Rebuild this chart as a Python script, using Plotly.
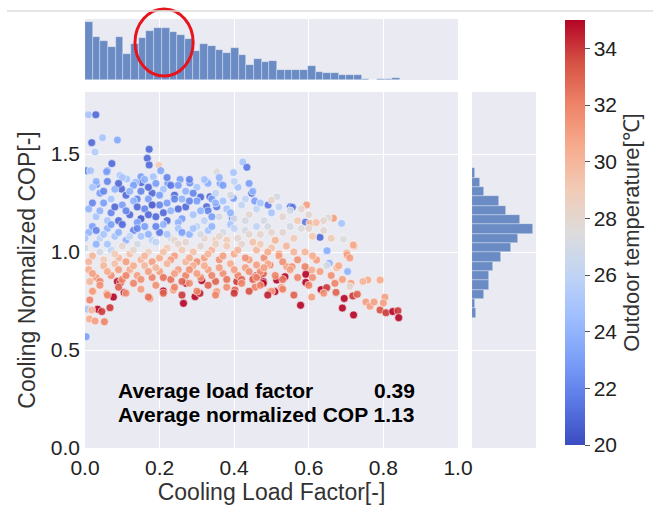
import plotly.graph_objects as go

# ---------------- data (load factor, normalized COP, outdoor temperature) ----------------
upper_outliers = [
    (0.009, 1.70, 25), (0.029, 1.70, 21), (0.018, 1.558, 21), (0.047, 1.583, 25),
    (0.087, 1.571, 23.5), (0.027, 1.51, 25.5), (0.172, 1.524, 21), (0.167, 1.478, 21),
    (0.172, 1.444, 21), (0.072, 1.451, 21), (0.004, 1.415, 22), (0.015, 1.415, 25),
    (0.198, 1.442, 29), (0.423, 1.459, 25), (0.434, 1.432, 21.5), (0.06, 1.415, 23),
    (0.203, 1.415, 23.5), (0.058, 1.41, 23), (0.094, 1.39, 25), (0.112, 1.372, 25),
    (0.150, 1.384, 23), (0.151, 1.354, 21), (0.031, 1.345, 22.5), (0.098, 1.321, 21),
    (0.136, 1.356, 24.5), (0.183, 1.384, 25), (0.222, 1.35, 23), (0.255, 1.37, 23),
    (0.281, 1.352, 22.5), (0.362, 1.35, 23.5), (0.398, 1.405, 25), (0.353, 1.41, 27.5),
    (0.326, 1.359, 22.5),
]
mid_right_points = [
    (0.551, 1.231, 21), (0.556, 1.228, 21.5), (0.594, 1.24, 31), (0.591, 1.152, 21.5),
    (0.630, 1.075, 21), (0.666, 1.172, 31), (0.688, 1.146, 25), (0.693, 1.065, 27.5),
    (0.721, 1.031, 31), (0.648, 1.005, 24), (0.702, 0.993, 31), (0.652, 1.175, 27.5),
    (0.640, 1.160, 28), (0.603, 1.146, 30), (0.491, 1.24, 21.5), (0.514, 1.282, 27),
    (0.500, 1.265, 28), (0.447, 1.30, 21), (0.455, 1.26, 23), (0.398, 1.274, 23),
    (0.335, 1.282, 21), (0.326, 1.231, 21), (0.353, 1.231, 21.5), (0.395, 1.172, 22),
]
lower_left_points = [
    (0.003, 0.568, 23), (0.006, 0.708, 25), (0.012, 0.658, 30.5), (0.027, 0.648, 31),
    (0.034, 0.708, 35), (0.045, 0.696, 34), (0.067, 0.716, 34), (0.076, 0.77, 35),
    (0.052, 0.644, 32), (0.013, 0.755, 32), (0.018, 0.704, 30), (0.087, 0.849, 35),
    (0.095, 0.845, 34), (0.105, 0.794, 35), (0.058, 0.789, 30), (0.022, 0.798, 30.5),
    (0.013, 0.849, 30), (0.174, 0.763, 31.5), (0.21, 0.801, 35), (0.264, 0.738, 35),
    (0.237, 0.806, 31), (0.271, 0.84, 35), (0.295, 0.772, 35), (0.308, 0.789, 34.5),
    (0.313, 0.854, 35), (0.353, 0.798, 31), (0.407, 0.849, 34), (0.402, 0.806, 33),
    (0.46, 0.879, 35), (0.478, 0.849, 35), (0.496, 0.798, 32), (0.452, 0.87, 34),
    (0.47, 0.885, 35),
]
lower_right_points = [
    (0.578, 0.728, 35), (0.608, 0.77, 31), (0.633, 0.808, 35), (0.648, 0.818, 34),
    (0.673, 0.794, 33), (0.695, 0.763, 35), (0.69, 0.714, 35), (0.72, 0.679, 35),
    (0.718, 0.776, 34), (0.73, 0.784, 33), (0.753, 0.745, 31), (0.764, 0.723, 31),
    (0.775, 0.745, 31), (0.804, 0.769, 31), (0.791, 0.704, 33.5), (0.807, 0.69, 34),
    (0.825, 0.696, 35), (0.839, 0.70, 34), (0.841, 0.665, 35), (0.80, 0.74, 31),
    (0.791, 0.857, 30.5), (0.758, 0.857, 30.5), (0.745, 0.85, 30), (0.713, 0.84, 31),
    (0.704, 0.90, 24), (0.655, 0.942, 24), (0.649, 1.007, 24), (0.648, 0.93, 27),
    (0.675, 0.92, 30), (0.71, 0.823, 28), (0.69, 0.86, 31), (0.608, 0.908, 30.5),
    (0.621, 0.959, 31), (0.703, 0.985, 31), (0.71, 0.97, 31), (0.719, 1.036, 30.5),
    (0.59, 0.925, 32), (0.592, 0.886, 35), (0.592, 0.845, 35), (0.541, 0.925, 31),
    (0.555, 0.925, 31.5), (0.536, 0.874, 35), (0.514, 0.857, 35), (0.509, 0.798, 35),
    (0.527, 0.818, 31.5), (0.50, 0.80, 31), (0.478, 0.84, 35), (0.456, 0.871, 35),
    (0.456, 0.82, 32), (0.478, 0.89, 33), (0.496, 0.934, 32), (0.46, 0.934, 31),
    (0.52, 0.99, 31),
]
band_cop_135 = [
    (0.02, 1.33, 25), (0.04, 1.30, 23), (0.06, 1.36, 22), (0.08, 1.32, 24), (0.10, 1.38, 25),
    (0.11, 1.29, 21), (0.13, 1.34, 23), (0.15, 1.31, 22), (0.16, 1.37, 24), (0.18, 1.30, 21),
    (0.19, 1.35, 23), (0.21, 1.32, 25), (0.22, 1.38, 22), (0.24, 1.29, 21), (0.25, 1.34, 23),
    (0.27, 1.31, 24), (0.28, 1.37, 22), (0.30, 1.33, 25), (0.31, 1.28, 21), (0.33, 1.35, 24),
    (0.35, 1.30, 26), (0.37, 1.34, 23), (0.39, 1.29, 27), (0.41, 1.33, 25), (0.43, 1.27, 26),
    (0.45, 1.31, 24),
]
band_cop_130b = [
    (0.03, 1.36, 24), (0.05, 1.31, 22), (0.07, 1.27, 25), (0.09, 1.35, 21), (0.12, 1.31, 24),
    (0.14, 1.27, 22), (0.17, 1.33, 21), (0.20, 1.29, 23), (0.23, 1.34, 21.5), (0.26, 1.27, 24),
    (0.29, 1.30, 22), (0.32, 1.37, 25), (0.34, 1.27, 23), (0.36, 1.38, 24), (0.40, 1.36, 26),
    (0.44, 1.35, 23),
]
band_cop_122 = [
    (0.01, 1.22, 24), (0.03, 1.18, 25), (0.05, 1.25, 23), (0.07, 1.20, 22), (0.09, 1.16, 21),
    (0.10, 1.24, 23), (0.12, 1.19, 21), (0.13, 1.26, 24), (0.15, 1.17, 20.5), (0.16, 1.22, 22),
    (0.17, 1.27, 23), (0.19, 1.18, 21), (0.20, 1.24, 22), (0.22, 1.16, 21), (0.23, 1.21, 24),
    (0.24, 1.27, 22), (0.26, 1.17, 23), (0.27, 1.23, 21), (0.29, 1.19, 25), (0.30, 1.26, 23),
    (0.32, 1.16, 26), (0.33, 1.21, 22), (0.35, 1.25, 24), (0.36, 1.18, 27), (0.38, 1.22, 25),
    (0.40, 1.17, 27), (0.42, 1.24, 26), (0.44, 1.19, 28), (0.46, 1.22, 26), (0.48, 1.16, 27),
    (0.50, 1.20, 25), (0.53, 1.18, 28), (0.55, 1.21, 27), (0.57, 1.16, 29), (0.60, 1.19, 28),
    (0.62, 1.15, 29.5),
]
band_cop_118b = [
    (0.02, 1.25, 22), (0.04, 1.21, 24), (0.06, 1.16, 25), (0.08, 1.23, 21), (0.11, 1.21, 22),
    (0.14, 1.23, 21), (0.14, 1.15, 23), (0.17, 1.19, 21), (0.18, 1.24, 20.5), (0.21, 1.20, 21),
    (0.22, 1.25, 23), (0.25, 1.22, 21), (0.25, 1.15, 24), (0.28, 1.26, 22), (0.31, 1.21, 24),
    (0.34, 1.18, 23), (0.37, 1.26, 25), (0.39, 1.20, 24), (0.43, 1.16, 27), (0.47, 1.25, 25),
    (0.52, 1.23, 26), (0.58, 1.22, 28),
]
band_cop_110 = [
    (0.01, 1.10, 24), (0.02, 1.13, 23), (0.04, 1.07, 26), (0.06, 1.12, 24), (0.08, 1.08, 25),
    (0.10, 1.14, 21), (0.11, 1.06, 24), (0.13, 1.11, 22), (0.15, 1.08, 25), (0.16, 1.13, 23),
    (0.18, 1.06, 26), (0.20, 1.10, 21.5), (0.21, 1.14, 24), (0.23, 1.07, 27), (0.25, 1.12, 25),
    (0.27, 1.05, 28), (0.28, 1.09, 24), (0.30, 1.13, 26), (0.32, 1.07, 28), (0.33, 1.11, 25),
    (0.35, 1.06, 29), (0.37, 1.10, 27), (0.39, 1.14, 25), (0.41, 1.07, 28), (0.43, 1.11, 27),
    (0.45, 1.05, 29.5), (0.47, 1.09, 28), (0.49, 1.13, 27), (0.51, 1.06, 30), (0.53, 1.10, 28),
    (0.56, 1.07, 29), (0.58, 1.12, 27.5), (0.61, 1.08, 29), (0.64, 1.11, 28),
]
band_cop_108b = [
    (0.00, 1.07, 25), (0.03, 1.11, 22), (0.05, 1.09, 25), (0.07, 1.14, 23), (0.09, 1.10, 24),
    (0.12, 1.08, 26), (0.14, 1.12, 22), (0.17, 1.09, 24), (0.19, 1.13, 22), (0.22, 1.09, 25),
    (0.24, 1.06, 28), (0.26, 1.10, 23), (0.29, 1.12, 25), (0.31, 1.09, 27), (0.34, 1.13, 24),
    (0.36, 1.08, 28), (0.38, 1.06, 29), (0.40, 1.12, 26), (0.44, 1.09, 28), (0.46, 1.13, 26),
    (0.50, 1.10, 28), (0.55, 1.13, 27), (0.60, 1.12, 28), (0.66, 1.07, 29),
]
band_cop_100 = [
    (0.00, 1.02, 27), (0.02, 0.98, 30), (0.03, 1.04, 24), (0.05, 0.96, 29), (0.07, 1.01, 26),
    (0.09, 0.97, 30), (0.10, 1.03, 28), (0.12, 0.99, 29.5), (0.14, 1.04, 27), (0.15, 0.96, 30),
    (0.17, 1.00, 28.5), (0.19, 1.05, 26), (0.20, 0.97, 30.5), (0.22, 1.02, 29), (0.24, 0.98, 31),
    (0.25, 1.04, 28), (0.27, 0.95, 30), (0.29, 1.00, 29.5), (0.31, 1.03, 28), (0.32, 0.97, 31),
    (0.34, 1.01, 30), (0.36, 0.96, 31.5), (0.38, 1.03, 29), (0.40, 0.99, 30.5), (0.42, 1.04, 28),
    (0.44, 0.96, 31), (0.46, 1.01, 30), (0.48, 0.97, 31.5), (0.50, 1.02, 29.5), (0.52, 0.98, 31),
    (0.54, 1.03, 30), (0.57, 0.96, 31.5), (0.59, 1.00, 30),
]
band_cop_098b = [
    (0.01, 0.95, 30), (0.04, 1.00, 27), (0.06, 1.04, 25), (0.08, 0.99, 29), (0.11, 0.95, 31),
    (0.13, 1.01, 28), (0.16, 0.98, 30), (0.18, 0.95, 31), (0.21, 1.00, 29.5), (0.23, 0.96, 31),
    (0.26, 1.01, 29), (0.28, 0.97, 30.5), (0.30, 0.95, 31.5), (0.33, 0.99, 30), (0.35, 1.04, 28.5),
    (0.37, 0.98, 31), (0.41, 1.01, 30), (0.43, 0.97, 31.5), (0.47, 1.04, 29), (0.49, 1.00, 30.5),
    (0.53, 0.95, 31.5), (0.56, 1.00, 30), (0.61, 0.98, 30.5),
]
band_cop_090 = [
    (0.01, 0.91, 30.5), (0.03, 0.87, 31), (0.05, 0.93, 30), (0.07, 0.88, 31.5), (0.08, 0.94, 29.5),
    (0.10, 0.86, 32), (0.12, 0.91, 30.5), (0.14, 0.88, 31), (0.16, 0.93, 30), (0.18, 0.87, 32),
    (0.20, 0.90, 31), (0.22, 0.94, 30), (0.23, 0.86, 32.5), (0.25, 0.91, 31), (0.27, 0.88, 32),
    (0.29, 0.93, 30.5), (0.31, 0.87, 31.5), (0.33, 0.91, 31), (0.35, 0.85, 33), (0.37, 0.89, 31.5),
    (0.39, 0.94, 30.5), (0.41, 0.88, 32), (0.43, 0.92, 31), (0.45, 0.86, 33), (0.47, 0.90, 31.5),
    (0.49, 0.94, 30.5), (0.51, 0.88, 32), (0.55, 0.91, 31), (0.57, 0.87, 32), (0.63, 0.90, 31),
    (0.66, 0.88, 31.5), (0.68, 0.93, 30.5),
]
band_cop_088b = [
    (0.02, 0.89, 31), (0.04, 0.85, 32), (0.06, 0.90, 30.5), (0.09, 0.91, 31), (0.11, 0.88, 32),
    (0.13, 0.93, 30.5), (0.15, 0.86, 31.5), (0.17, 0.90, 31), (0.19, 0.92, 30), (0.21, 0.87, 32.5),
    (0.24, 0.89, 31), (0.26, 0.85, 33), (0.28, 0.91, 31.5), (0.30, 0.89, 31), (0.32, 0.93, 30.5),
    (0.34, 0.88, 32), (0.36, 0.92, 31), (0.38, 0.86, 32.5), (0.40, 0.91, 31), (0.42, 0.86, 33),
    (0.44, 0.90, 31.5), (0.46, 0.87, 32), (0.48, 0.92, 31), (0.53, 0.86, 32.5), (0.61, 0.87, 31.5),
]
band_cop_080 = [
    (0.02, 0.80, 31), (0.04, 0.83, 31.5), (0.06, 0.78, 32), (0.09, 0.82, 33), (0.11, 0.79, 31.5),
    (0.13, 0.84, 32), (0.15, 0.81, 31), (0.17, 0.77, 32.5), (0.19, 0.83, 31.5), (0.21, 0.79, 33),
    (0.24, 0.82, 32), (0.26, 0.78, 34), (0.28, 0.84, 31.5), (0.30, 0.80, 32), (0.33, 0.83, 33),
    (0.35, 0.78, 32), (0.38, 0.82, 31.5), (0.40, 0.79, 34), (0.42, 0.84, 32), (0.44, 0.80, 33.5),
    (0.47, 0.83, 32), (0.49, 0.78, 34.5), (0.53, 0.81, 32), (0.56, 0.78, 33), (0.60, 0.83, 32),
    (0.64, 0.79, 31.5), (0.67, 0.84, 32),
]

# marginal histogram of load factor (41 bins starting at 0)
load_bin_start = 0.0
load_bin_width = 0.0206
load_hist_counts = [175, 128, 116, 98, 128, 79, 107, 125, 148, 155, 155, 145, 134, 123, 87,
                    109, 101, 91, 81, 96, 76, 46, 63, 54, 56, 31, 29, 31, 29, 41, 24, 22, 22,
                    14, 14, 14, 4, 0, 4, 4, 6]
# marginal histogram of normalized COP (16 bins, bottom to top)
cop_bin_start = 0.665
cop_bin_width = 0.0476
cop_hist_counts = [12, 9, 37, 52, 52, 62, 87, 117, 138, 182, 142, 102, 80, 35, 25, 8]

# annotation texts
avg_load_factor = "0.39"
avg_cop_text = "Average normalized COP 1.13"

# ---------------- assemble ----------------
groups = [upper_outliers, mid_right_points, lower_left_points, lower_right_points,
          band_cop_135, band_cop_130b, band_cop_122, band_cop_118b, band_cop_110,
          band_cop_108b, band_cop_100, band_cop_098b, band_cop_090, band_cop_088b, band_cop_080]
pts = [p for g in groups for p in g]
lf = [p[0] for p in pts]
cop = [p[1] for p in pts]
temp = [p[2] for p in pts]

coolwarm = [
    [0.0, "#3b4cc0"], [0.1, "#5a78e4"], [0.2, "#7b9ff9"], [0.3, "#9ebeff"],
    [0.4, "#c0d4f5"], [0.5, "#dddcdc"], [0.6, "#f2cbb7"], [0.7, "#f7ac8e"],
    [0.8, "#ee8468"], [0.9, "#d65244"], [1.0, "#b40426"],
]

W, H = 653, 509
def px(x):
    return x / W
def py(y):
    return 1 - y / H

FONT = "Liberation Sans, Arial, sans-serif"
BG = "#eaeaf2"
BAR = "#6a8bc3"

fig = go.Figure()

fig.add_trace(go.Scatter(
    x=lf, y=cop, mode="markers", xaxis="x", yaxis="y",
    marker=dict(
        color=temp, colorscale=coolwarm, cmin=20, cmax=35, size=8, opacity=0.9,
        line=dict(color="white", width=0.6),
        colorbar=dict(
            x=px(565), xanchor="left", xpad=0, y=py(445), yanchor="bottom", ypad=0,
            len=425 / H, lenmode="fraction", thickness=20, thicknessmode="pixels",
            outlinewidth=0, tickvals=[20, 22, 24, 26, 28, 30, 32, 34],
            ticks="outside", ticklen=5, tickcolor="#555", tickwidth=1,
            tickfont=dict(size=21, family=FONT, color="#222"),
            title=dict(text="Outdoor temperature[℃]", side="right",
                       font=dict(size=22, family=FONT, color="#333")),
        ),
    ),
    showlegend=False, hoverinfo="skip",
))

load_centers = [load_bin_start + (i + 0.5) * load_bin_width for i in range(len(load_hist_counts))]
fig.add_trace(go.Bar(
    x=load_centers, y=load_hist_counts, width=load_bin_width, xaxis="x2", yaxis="y2",
    marker=dict(color=BAR, line=dict(color="rgba(255,255,255,0.55)", width=0.6)),
    showlegend=False, hoverinfo="skip",
))

cop_centers = [cop_bin_start + (i + 0.5) * cop_bin_width for i in range(len(cop_hist_counts))]
fig.add_trace(go.Bar(
    y=cop_centers, x=cop_hist_counts, width=cop_bin_width, orientation="h",
    xaxis="x3", yaxis="y3",
    marker=dict(color=BAR, line=dict(color="rgba(255,255,255,0.55)", width=0.6)),
    showlegend=False, hoverinfo="skip",
))

main_xdom = [px(85), px(458)]
main_ydom = [py(448), py(92)]
ymax = (448 - 92) / 196.0

tick_font = dict(size=21, family=FONT, color="#222")
title_font = dict(size=23, family=FONT, color="#333")

fig.update_layout(
    width=W, height=H, margin=dict(l=0, r=0, t=0, b=0, autoexpand=False),
    paper_bgcolor="white", plot_bgcolor=BG, bargap=0,
    font=dict(family=FONT),
    xaxis=dict(domain=main_xdom, range=[0, 1], anchor="y", automargin=False,
               tickvals=[0, 0.2, 0.4, 0.6, 0.8, 1.0],
               ticktext=["0.0", "0.2", "0.4", "0.6", "0.8", "1.0"],
               showgrid=True, gridcolor="white", gridwidth=1.2, zeroline=False,
               showline=False, ticks="", tickfont=tick_font, ticklabelstandoff=5,
               title=dict(text="Cooling Load Factor[-]", font=title_font, standoff=5)),
    yaxis=dict(domain=main_ydom, range=[0, ymax], anchor="x", automargin=False,
               tickvals=[0, 0.5, 1.0, 1.5], ticktext=["0.0", "0.5", "1.0", "1.5"],
               showgrid=True, gridcolor="white", gridwidth=1.2, zeroline=False,
               showline=False, ticks="", tickfont=tick_font, ticklabelstandoff=4,
               title=dict(text="Cooling Normalized COP[-]", font=title_font, standoff=8)),
    xaxis2=dict(domain=main_xdom, range=[0, 1], anchor="y2", automargin=False,
                tickvals=[0.2, 0.4, 0.6, 0.8], showticklabels=False,
                showgrid=True, gridcolor="white", gridwidth=1.2, zeroline=False, ticks=""),
    yaxis2=dict(domain=[py(80), py(19)], range=[0, 183], anchor="x2", automargin=False,
                showticklabels=False, showgrid=False, zeroline=False, ticks=""),
    xaxis3=dict(domain=[px(472), px(536)], range=[0, 191], anchor="y3", automargin=False,
                showticklabels=False, showgrid=False, zeroline=False, ticks=""),
    yaxis3=dict(domain=main_ydom, range=[0, ymax], anchor="x3", automargin=False,
                tickvals=[0.5, 1.0, 1.5], showticklabels=False,
                showgrid=True, gridcolor="white", gridwidth=1.2, zeroline=False, ticks=""),
)

ann_font = dict(size=21, family=FONT, color="black")
fig.add_annotation(xref="paper", yref="paper", x=px(116), y=py(390), xanchor="left",
                   yanchor="middle", showarrow=False, text="<b>Average load factor</b>", font=ann_font)
fig.add_annotation(xref="paper", yref="paper", x=px(417), y=py(390), xanchor="right",
                   yanchor="middle", showarrow=False, text="<b>" + avg_load_factor + "</b>", font=ann_font)
fig.add_annotation(xref="paper", yref="paper", x=px(116), y=py(414), xanchor="left",
                   yanchor="middle", showarrow=False, text="<b>" + avg_cop_text + "</b>", font=ann_font)

# red highlight circle around the histogram peak, and the thin top rule
fig.add_shape(type="circle", xref="x2", yref="paper",
              x0=0.134, x1=0.290, y0=py(76), y1=py(9),
              line=dict(color="#e8141b", width=3))
fig.add_shape(type="line", xref="paper", yref="paper", x0=px(7), x1=1, y0=py(11), y1=py(11),
              line=dict(color="#dcdcdc", width=1.5))

fig.write_html("out.html")
